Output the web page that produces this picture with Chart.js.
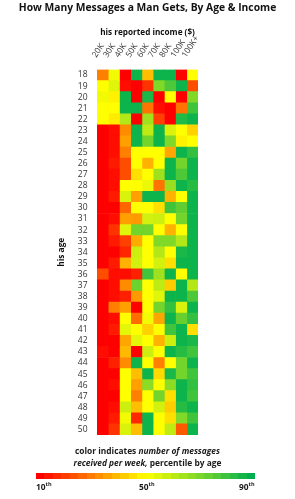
<!DOCTYPE html>
<html><head><meta charset="utf-8">
<script src="https://cdn.jsdelivr.net/npm/chart.js@4/dist/chart.umd.min.js"></script>
<style>
html,body{margin:0;padding:0;background:#fff;}
#wrap{position:relative;width:295px;height:499px;overflow:hidden;}
canvas{position:absolute;left:0;top:0;}
#title{position:absolute;left:0;top:0;width:295px;text-align:center;font:bold 10.3px "Open Sans", sans-serif;color:#111;line-height:14px;white-space:nowrap;}
.lg{position:absolute;left:0;width:295px;text-align:center;font:bold 8.4px "Open Sans", sans-serif;color:#1a1a1a;white-space:nowrap;line-height:12px;}
.tk{position:absolute;top:481px;font:bold 8.4px "Open Sans", sans-serif;color:#1a1a1a;line-height:11px;white-space:nowrap;}
.tk sup{font-size:5.5px;vertical-align:top;line-height:6px;}
#bar{position:absolute;left:36px;top:473px;width:219px;height:6px;}
</style></head>
<body><div id="wrap"><canvas id="c" width="295" height="499"></canvas>
<div id="title">How Many Messages a Man Gets, By Age &amp; Income</div>
<div class="lg" style="top:445px">color indicates <i>number of messages</i></div>
<div class="lg" style="top:457px"><i>received per week,</i> percentile by age</div>
<div id="bar"></div>
<div class="tk" style="left:36px">10<sup>th</sup></div>
<div class="tk" style="left:139px">50<sup>th</sup></div>
<div class="tk" style="left:239px">90<sup>th</sup></div>
</div>
<script>
const ages = ['18','19','20','21','22','23','24','25','26','27','28','29','30','31','32','33','34','35','36','37','38','39','40','41','42','43','44','45','46','47','48','49','50'];
const incomes = ['20K','30K','40K','50K','60K','70K','80K','100K','100K+'];
const legendTicks = [10, 50, 90];
// percentile (by age) of messages received per week, one array per income bracket, ages 18..50
const pct20K  = [30,50,52,50,50, 10,10,10,10,10,10,10,10,10,10,10,10,10, 22,10,10,10,10,10,10,12,10,10,10,10,10,10,10];
const pct30K  = [52,55,48,50,47, 12,12,12,14,12,12,14,10,12,18,14,10,14, 12,12,12,30,12,14,10,10,15,10,12,10,12,14,18];
const pct40K  = [10,12,88,88,62, 32,35,30,22,22,50,56,26,35,55,20,16,38, 12,32,15,35,50,54,36,39,32,50,50,50,58,52,56];
const pct50K  = [88,10,10,88,10, 88,88,50,50,45,50,35,50,34,72,37,58,57, 15,73,34,10,27,50,54,10,88,40,35,30,40,16,40];
const pct60K  = [40,18,86,28,65, 60,72,50,38,50,53,88,50,57,72,50,50,50, 80,50,50,50,52,43,50,58,50,88,68,50,50,88,88];
const pct70K  = [88,70,10,12,20, 88,88,50,50,65,28,88,45,58,50,70,62,57, 65,60,55,72,36,50,38,50,30,44,50,72,57,50,50];
const pct80K  = [88,78,50,10,10, 56,70,36,88,88,66,38,80,50,38,70,50,45, 88,42,88,82,88,80,58,88,50,86,68,45,42,45,60];
const pct100K = [10,88,10,28,85, 50,48,88,72,78,88,50,75,72,50,62,86,88, 50,88,88,56,74,88,88,84,72,72,88,88,84,70,24];
const pct100Kplus = [50,22,70,80,88, 43,50,82,88,88,84,88,88,88,88,88,88,88, 88,62,78,88,82,45,86,80,88,80,82,80,88,80,88];
const series = [pct20K,pct30K,pct40K,pct50K,pct60K,pct70K,pct80K,pct100K,pct100Kplus];

function colorFor(p){
  const t = Math.max(0, Math.min(1, (p - 10) / 80));
  let r, g, b;
  if (t <= 0.5) { const u = t / 0.5; r = 255; g = 255 * u; b = 0; }
  else { const u = (t - 0.5) / 0.5; r = 255 * (1 - u); g = 255 + (176 - 255) * u; b = 80 * u; }
  return 'rgb(' + Math.round(r) + ',' + Math.round(g) + ',' + Math.round(b) + ')';
}

// stepped legend bar
(function(){
  const steps = 26, stops = [];
  for (let i = 0; i < steps; i++) {
    const p = legendTicks[0] + (legendTicks[2] - legendTicks[0]) * i / (steps - 1);
    const c = colorFor(p);
    stops.push(c + ' ' + (100 * i / steps).toFixed(2) + '%', c + ' ' + (100 * (i + 1) / steps).toFixed(2) + '%');
  }
  document.getElementById('bar').style.background = 'linear-gradient(to right,' + stops.join(',') + ')';
})();

const datasets = series.map((vals, i) => ({
  label: incomes[i],
  data: ages.map(() => 1),
  backgroundColor: vals.map(colorFor),
  borderWidth: 0,
  barPercentage: 1,
  categoryPercentage: 1
}));

new Chart(document.getElementById('c'), {
  type: 'bar',
  data: { labels: ages, datasets },
  options: {
    indexAxis: 'y',
    responsive: false,
    animation: false,
    events: [],
    layout: { padding: { left: 57, right: 97, top: 0, bottom: 64 } },
    plugins: {
      legend: { display: false },
      tooltip: { enabled: false },
      title: { display: false }
    },
    scales: {
      x: { type: 'linear', stacked: true, min: 0, max: 9, display: false },
      y: {
        type: 'category', stacked: true, offset: true,
        grid: { display: false }, border: { display: false },
        ticks: { padding: 1.5, autoSkip: false, font: { family: 'Open Sans', size: 8.5 }, color: '#333' },
        title: { display: true, text: 'his age', font: { family: 'Open Sans', size: 8.4, weight: 'bold' }, color: '#111', padding: 0 },
        afterFit: s => { s.width = 40; }
      },
      x2: {
        type: 'category', labels: incomes, position: 'top', offset: true,
        grid: { display: false }, border: { display: false },
        ticks: { minRotation: 57, maxRotation: 57, padding: 2, autoSkip: false, font: { family: 'Open Sans', size: 8.3 }, color: '#333' },
        title: { display: true, text: 'his reported income ($)', font: { family: 'Open Sans', size: 8.2, weight: 'bold' }, color: '#111', padding: { top: 28, bottom: 0 } },
        afterFit: s => { s.height = 69.5; }
      }
    }
  }
});
</script>
</body></html>
